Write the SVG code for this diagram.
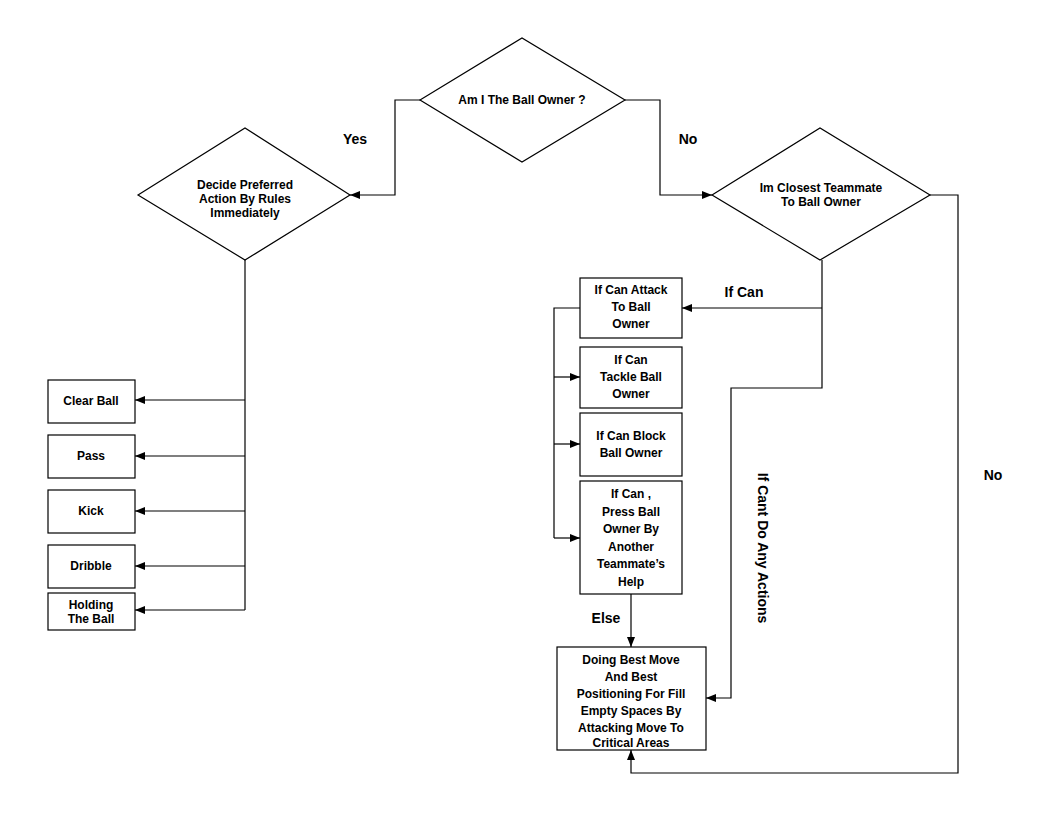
<svg xmlns="http://www.w3.org/2000/svg" width="1055" height="815" viewBox="0 0 1055 815">
<defs><marker id="a" markerWidth="10" markerHeight="8" refX="10" refY="4" orient="auto" markerUnits="userSpaceOnUse"><path d="M0,0 L10,4 L0,8 z" fill="#000"/></marker></defs>
<style>
.s{fill:#fff;stroke:#000;stroke-width:1.2}
.c{fill:none;stroke:#000;stroke-width:1.2;marker-end:url(#a)}
.l{fill:none;stroke:#000;stroke-width:1.2}
text{font-family:"Liberation Sans",Arial,sans-serif;font-weight:bold;font-size:12px;text-anchor:middle}
.b{font-size:14px}
</style>
<rect width="1055" height="815" fill="#fff"/>
<g id="connectors">
<path class="c" d="M420,100 H395 V195 H350"/>
<path class="c" d="M625,100 H660 V195 H712"/>
<path class="c" d="M930,195 H958 V773 H631 V750"/>
<path class="l" d="M245,260 V610"/>
<path class="c" d="M245,400 H135"/>
<path class="c" d="M245,456 H135"/>
<path class="c" d="M245,511 H135"/>
<path class="c" d="M245,566 H135"/>
<path class="c" d="M245,610 H135"/>
<path class="c" d="M822,260 V388 H731 V698 H706"/>
<path class="c" d="M822,308 H682"/>
<path class="l" d="M580,308 H554 V538"/>
<path class="c" d="M554,377 H580"/>
<path class="c" d="M554,444 H580"/>
<path class="c" d="M554,538 H580"/>
<path class="c" d="M631,594 V647"/>
<text class="b" x="355" y="144">Yes</text>
<text class="b" x="688" y="144">No</text>
<text class="b" x="993" y="480">No</text>
<text class="b" x="744" y="297">If Can</text>
<text class="b" x="606" y="623">Else</text>
<text class="b" transform="translate(758,548) rotate(90)">If Cant  Do Any Actions</text>
</g>
<g id="n1"><polygon class="s" points="420,100 522,38 625,100 522,162"/><text x="522" y="104">Am I The Ball Owner ?</text></g>
<g id="n2"><polygon class="s" points="138,195 245,128 350,195 245,260"/><text x="245" y="189">Decide Preferred</text><text x="245" y="203">Action By Rules</text><text x="245" y="217">Immediately</text></g>
<g id="n3"><polygon class="s" points="712,195 820,128 930,195 820,260"/><text x="821" y="192">Im Closest Teammate</text><text x="821" y="206">To Ball Owner</text></g>
<g id="n4"><rect class="s" x="48" y="380" width="87" height="43"/><text x="91" y="405">Clear Ball</text></g>
<g id="n5"><rect class="s" x="48" y="435" width="87" height="43"/><text x="91" y="460">Pass</text></g>
<g id="n6"><rect class="s" x="48" y="490" width="87" height="43"/><text x="91" y="515">Kick</text></g>
<g id="n7"><rect class="s" x="48" y="545" width="87" height="43"/><text x="91" y="570">Dribble</text></g>
<g id="n8"><rect class="s" x="48" y="593" width="87" height="37"/><text x="91" y="609">Holding</text><text x="91" y="623">The Ball</text></g>
<g id="n9"><rect class="s" x="580" y="278" width="102" height="60"/><text x="631" y="294">If Can Attack</text><text x="631" y="311">To Ball</text><text x="631" y="328">Owner</text></g>
<g id="n10"><rect class="s" x="580" y="347" width="102" height="61"/><text x="631" y="364">If Can</text><text x="631" y="381">Tackle Ball</text><text x="631" y="398">Owner</text></g>
<g id="n11"><rect class="s" x="580" y="413" width="102" height="63"/><text x="631" y="440">If Can Block</text><text x="631" y="457">Ball Owner</text></g>
<g id="n12"><rect class="s" x="580" y="481" width="102" height="113"/><text x="631" y="498">If Can ,</text><text x="631" y="516">Press Ball</text><text x="631" y="533">Owner By</text><text x="631" y="551">Another</text><text x="631" y="568">Teammate’s</text><text x="631" y="586">Help</text></g>
<g id="n13"><rect class="s" x="557" y="647" width="149" height="103"/><text x="631" y="664">Doing Best Move</text><text x="631" y="681">And Best</text><text x="631" y="698">Positioning For Fill</text><text x="631" y="715">Empty Spaces By</text><text x="631" y="732">Attacking Move To</text><text x="631" y="749" dy="-2">Critical Areas</text></g>
</svg>
